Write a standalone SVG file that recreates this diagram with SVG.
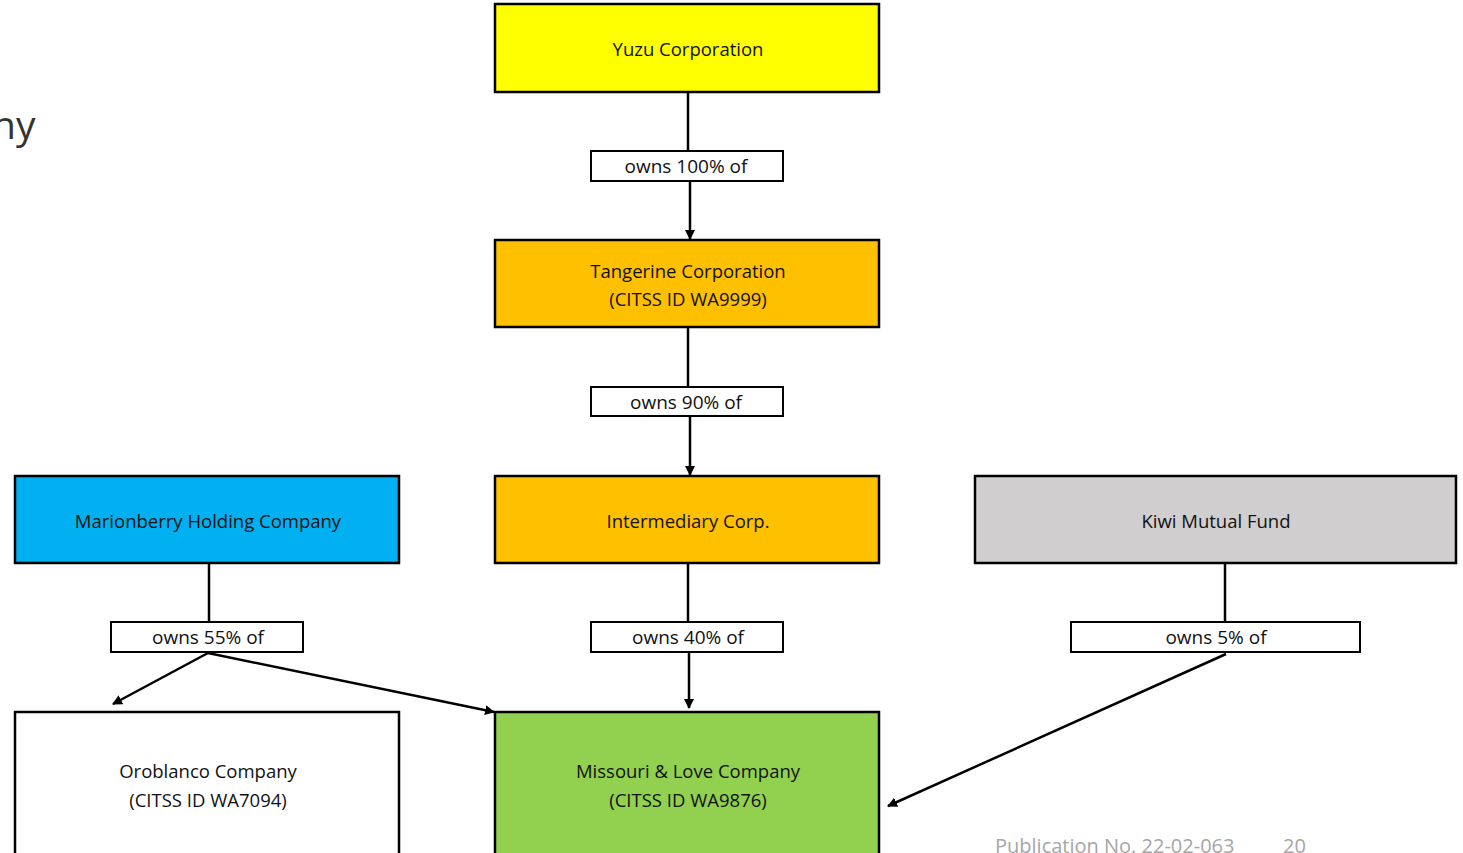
<svg xmlns="http://www.w3.org/2000/svg" width="1463" height="853" viewBox="0 0 1463 853">
<defs>
<marker id="arr" viewBox="0 0 10 10" refX="9" refY="5" markerWidth="10" markerHeight="10" markerUnits="userSpaceOnUse" orient="auto">
<path d="M0,0 L10,5 L0,10 z" fill="#000"/>
</marker>
<style>
.box{stroke:#000;stroke-width:2.5}
.lbl{fill:#fff;stroke:#000;stroke-width:2}
.t{font-family:"Open Sans","Liberation Sans",sans-serif;font-size:18.5px;fill:#111;text-anchor:middle;dominant-baseline:central}
.l{font-size:19px}
.c{stroke:#000;stroke-width:2.5;fill:none;marker-end:url(#arr)}
.ln{stroke:#000;stroke-width:2.5;fill:none}
.foot{font-family:"Open Sans","Liberation Sans",sans-serif;font-size:20px;fill:#a6a6a6}
</style>
</defs>
<rect width="1463" height="853" fill="#fff"/>
<text x="-8" y="139" font-family="Open Sans, Liberation Sans, sans-serif" font-size="39" fill="#333">ny</text>

<g id="connectors">
<line class="ln" x1="688" y1="92" x2="688" y2="151"/>
<line class="c" x1="690" y1="181" x2="690" y2="239"/>
<line class="ln" x1="688" y1="327" x2="688" y2="387"/>
<line class="c" x1="690" y1="416" x2="690" y2="475"/>
<line class="ln" x1="688" y1="563" x2="688" y2="622"/>
<line class="c" x1="689" y1="652" x2="689" y2="708"/>
<line class="ln" x1="209" y1="563" x2="209" y2="622"/>
<line class="c" x1="208" y1="653" x2="113" y2="704"/>
<line class="c" x1="208" y1="653" x2="494" y2="712"/>
<line class="ln" x1="1225" y1="563" x2="1225" y2="622"/>
<line class="c" x1="1226" y1="654" x2="888" y2="806"/>
</g>

<g id="yuzu"><rect class="box" x="495" y="4" width="384" height="88" fill="#ffff00"/><text class="t" x="688" y="48">Yuzu Corporation</text></g>
<g id="lbl100"><rect class="lbl" x="591" y="151" width="192" height="30"/><text class="t l" x="686" y="166">owns 100% of</text></g>
<g id="tangerine"><rect class="box" x="495" y="240" width="384" height="87" fill="#ffc000"/><text class="t" x="688" y="270">Tangerine Corporation</text><text class="t" x="688" y="298">(CITSS ID WA9999)</text></g>
<g id="lbl90"><rect class="lbl" x="591" y="387" width="192" height="29"/><text class="t l" x="686" y="402">owns 90% of</text></g>
<g id="intermediary"><rect class="box" x="495" y="476" width="384" height="87" fill="#ffc000"/><text class="t" x="688" y="520">Intermediary Corp.</text></g>
<g id="marionberry"><rect class="box" x="15" y="476" width="384" height="87" fill="#00b0f0"/><text class="t" x="208" y="520">Marionberry Holding Company</text></g>
<g id="kiwi"><rect class="box" x="975" y="476" width="481" height="87" fill="#d0cece"/><text class="t" x="1216" y="520">Kiwi Mutual Fund</text></g>
<g id="lbl55"><rect class="lbl" x="111" y="622" width="192" height="30"/><text class="t l" x="208" y="637">owns 55% of</text></g>
<g id="lbl40"><rect class="lbl" x="591" y="622" width="192" height="30"/><text class="t l" x="688" y="637">owns 40% of</text></g>
<g id="lbl5"><rect class="lbl" x="1071" y="622" width="289" height="30"/><text class="t l" x="1216" y="637">owns 5% of</text></g>
<g id="oroblanco"><rect class="box" x="15" y="712" width="384" height="150" fill="#fff"/><text class="t" x="208" y="770">Oroblanco Company</text><text class="t" x="208" y="799">(CITSS ID WA7094)</text></g>
<g id="missouri"><rect class="box" x="495" y="712" width="384" height="150" fill="#92d050"/><text class="t" x="688" y="770">Missouri &amp; Love Company</text><text class="t" x="688" y="799">(CITSS ID WA9876)</text></g>

<g id="footer">
<text class="foot" x="995" y="853">Publication No. 22-02-063</text>
<text class="foot" x="1283" y="853">20</text>
</g>
</svg>
